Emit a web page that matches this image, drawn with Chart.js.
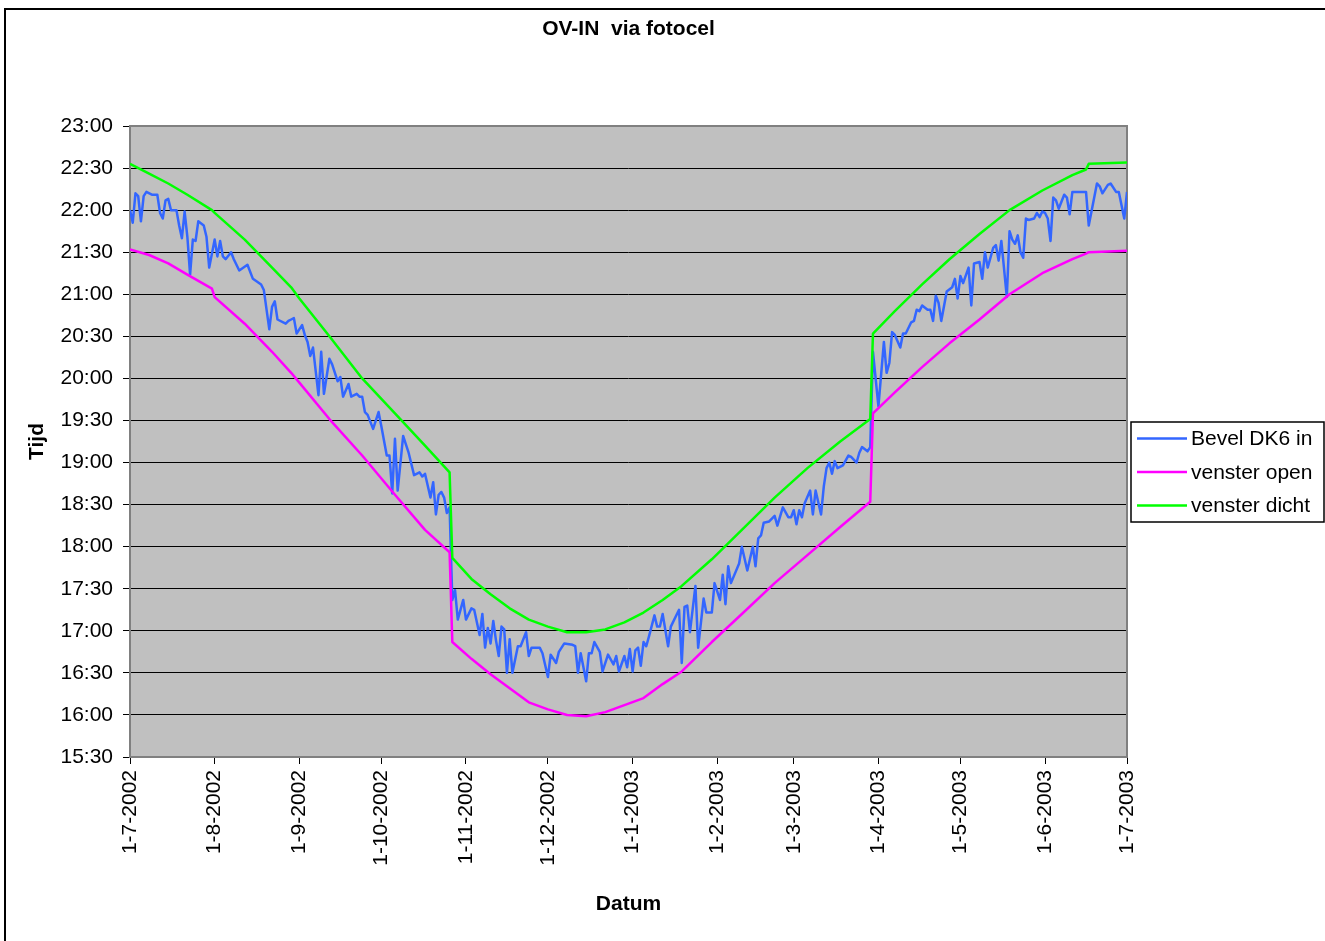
<!DOCTYPE html>
<html>
<head>
<meta charset="utf-8">
<title>OV-IN via fotocel</title>
<script src="https://cdn.jsdelivr.net/npm/chart.js@4.4.1/dist/chart.umd.min.js"></script>
<style>
	html, body { margin: 0; padding: 0; background: #fff; }
</style>
</head>
<body>
<canvas id="fotocel" width="1325" height="941"></canvas>
<script>
// x = days since 1-7-2002, y = minutes since midnight
var xTickDays = [0, 31, 62, 92, 123, 153, 184, 215, 243, 274, 304, 335, 365];
var xTickLabels = ['1-7-2002', '1-8-2002', '1-9-2002', '1-10-2002', '1-11-2002', '1-12-2002',
	'1-1-2003', '1-2-2003', '1-3-2003', '1-4-2003', '1-5-2003', '1-6-2003', '1-7-2003'];
var yTickValues = [930, 960, 990, 1020, 1050, 1080, 1110, 1140, 1170, 1200, 1230, 1260, 1290, 1320, 1350, 1380];
var yTickLabels = ['15:30', '16:00', '16:30', '17:00', '17:30', '18:00', '18:30', '19:00',
	'19:30', '20:00', '20:30', '21:00', '21:30', '22:00', '22:30', '23:00'];

var seriesNames = ['Bevel DK6 in', 'venster open', 'venster dicht'];

// Bevel DK6 in
var blueDays = [
	0, 1, 2, 3, 4, 5, 6, 8, 10, 11, 12, 13, 14, 15, 17, 18, 19, 20, 21, 22, 23, 24, 25, 27, 28, 29,
	31, 32, 33, 34, 35, 37, 38, 40, 43, 45, 48, 49, 51, 52, 53, 54, 57, 58, 59, 60, 61,
	63, 64, 65, 66, 67, 69, 70, 71, 73, 74, 76, 77, 78, 80, 81, 83, 84, 85, 86, 87, 89, 91,
	92, 94, 95, 96, 97, 98, 100, 101, 102, 104, 106, 107, 108, 110, 111, 112, 113, 114, 115, 116, 117, 118, 119, 120, 122,
	123, 125, 126, 128, 129, 130, 131, 132, 133, 134, 135, 136, 137, 138, 139, 140, 142, 143, 145, 146, 147, 150, 151,
	153, 154, 156, 157, 159, 162, 163, 164, 165, 167, 168, 169, 170, 172, 173, 175, 177, 178, 179, 181, 182, 183,
	184, 185, 186, 187, 188, 189, 190, 192, 193, 194, 195, 197, 198, 201, 202, 203, 204, 205, 207, 208, 210, 211, 213, 214,
	216, 217, 218, 219, 220, 223, 224, 226, 228, 229, 230, 231, 232, 234, 236, 237, 239, 241, 242,
	243, 244, 245, 246, 247, 249, 250, 251, 253, 254, 255, 256, 257, 258, 259, 261, 263, 264, 266, 267, 268, 270, 271,
	272, 274, 276, 277, 278, 279, 280, 282, 283, 284, 286, 287, 288, 289, 290, 292, 293, 294, 295, 296, 297, 299, 301, 302, 303,
	304, 305, 307, 308, 309, 311, 312, 313, 314, 316, 317, 318, 319, 321, 322, 323, 324, 325, 326, 327, 328, 329, 331, 332, 333, 334,
	335, 336, 337, 338, 339, 340, 342, 343, 344, 345, 347, 350, 351, 354, 355, 356, 358, 359, 361, 362, 364, 365
];
var blueMins = [
	1320, 1311, 1332, 1330, 1312, 1330, 1333, 1331, 1331, 1318, 1314, 1327, 1328, 1320, 1320, 1309, 1300, 1319, 1301, 1274, 1299, 1298, 1312, 1309, 1301, 1279,
	1299, 1287, 1298, 1287, 1285, 1290, 1285, 1277, 1281, 1271, 1267, 1263, 1235, 1251, 1255, 1242, 1239, 1241, 1242, 1243, 1232,
	1238, 1231, 1226, 1216, 1222, 1188, 1219, 1189, 1214, 1210, 1198, 1201, 1187, 1196, 1187, 1189, 1187, 1187, 1176, 1174, 1164, 1176,
	1166, 1145, 1145, 1118, 1157, 1120, 1159, 1153, 1147, 1131, 1133, 1130, 1132, 1115, 1126, 1103, 1117, 1119, 1115, 1104, 1108, 1042, 1049, 1028, 1042,
	1028, 1036, 1035, 1017, 1032, 1008, 1022, 1011, 1027, 1013, 1002, 1023, 1021, 990, 1014, 990, 1009, 1009, 1019, 1002, 1008, 1008, 1004,
	987, 1003, 997, 1005, 1011, 1010, 1009, 990, 1004, 984, 1004, 1004, 1012, 1005, 991, 1003, 996, 1002, 991, 1002, 994, 1007,
	991, 1006, 1008, 995, 1012, 1009, 1016, 1031, 1023, 1023, 1032, 1009, 1023, 1035, 997, 1037, 1038, 1019, 1052, 1008, 1043, 1033, 1033, 1054,
	1042, 1060, 1039, 1066, 1054, 1068, 1080, 1063, 1080, 1066, 1086, 1088, 1097, 1098, 1102, 1095, 1108, 1101, 1101,
	1106, 1096, 1106, 1101, 1111, 1120, 1103, 1120, 1103, 1123, 1136, 1140, 1132, 1141, 1136, 1138, 1145, 1144, 1140, 1147, 1151, 1148, 1151,
	1219, 1180, 1226, 1204, 1211, 1233, 1231, 1222, 1232, 1232, 1240, 1241, 1249, 1248, 1252, 1249, 1249, 1241, 1259, 1254, 1241, 1262, 1265, 1271, 1257,
	1273, 1268, 1279, 1252, 1282, 1283, 1271, 1290, 1279, 1293, 1295, 1284, 1298, 1258, 1305, 1299, 1296, 1302, 1290, 1286, 1314, 1313, 1314, 1318, 1315, 1319,
	1318, 1314, 1298, 1329, 1327, 1321, 1331, 1329, 1317, 1333, 1333, 1333, 1309, 1339, 1337, 1332, 1338, 1339, 1333, 1333, 1314, 1333
];

// venster open / venster dicht, read at these days
var windowDays = [0, 7, 14, 21, 30, 31, 42, 52, 59, 62, 73, 85, 97, 108, 117, 118, 125, 132, 139, 146, 153, 160, 167,
	174, 181, 188, 195, 202, 213, 224, 236, 248, 260, 271, 272, 280, 290, 300, 311, 322, 334, 345, 350, 351, 365];
var openMins = [1292, 1288, 1282, 1274, 1264, 1258, 1239, 1219, 1204, 1197, 1171, 1145, 1117, 1092, 1076, 1012, 1000, 989, 979, 969, 964, 960, 959,
	962, 967, 972, 982, 991, 1012, 1032, 1054, 1074, 1094, 1112, 1175, 1190, 1208, 1225, 1242, 1260, 1275, 1285, 1289, 1290, 1291];
var closedMins = [1353, 1346, 1339, 1331, 1320, 1318, 1299, 1279, 1265, 1257, 1230, 1200, 1175, 1152, 1133, 1072, 1057, 1046, 1036, 1028, 1023, 1019, 1019,
	1021, 1026, 1033, 1042, 1052, 1071, 1092, 1115, 1136, 1155, 1171, 1232, 1248, 1267, 1285, 1303, 1320, 1334, 1345, 1349, 1353, 1354];

function points(days, mins) {
	return days.map(function(d, i) { return { x: d, y: mins[i] }; });
}

var FONT = '"Liberation Sans", Arial, sans-serif';
Chart.defaults.font.family = FONT;
Chart.defaults.font.size = 21;
Chart.defaults.color = '#000';

var decor = {
	id: 'decor',
	beforeDraw: function(chart) {
		var ctx = chart.ctx, a = chart.chartArea;
		ctx.save();
		ctx.fillStyle = '#fff';
		ctx.fillRect(0, 0, chart.width, chart.height);
		ctx.fillStyle = '#c0c0c0';
		ctx.fillRect(a.left, a.top, a.right - a.left, a.bottom - a.top);
		ctx.restore();
	},
	beforeDatasetsDraw: function(chart) {
		var ctx = chart.ctx, a = chart.chartArea;
		ctx.save();
		ctx.strokeStyle = '#808080';
		ctx.lineWidth = 2;
		ctx.strokeRect(a.left, a.top, a.right - a.left, a.bottom - a.top);
		ctx.restore();
	},
	afterDraw: function(chart) {
		var ctx = chart.ctx;
		ctx.save();
		// outer chart frame (runs off the right and bottom edge)
		ctx.strokeStyle = '#000';
		ctx.lineWidth = 2;
		ctx.beginPath();
		ctx.moveTo(5, chart.height + 5);
		ctx.lineTo(5, 9);
		ctx.lineTo(chart.width + 5, 9);
		ctx.stroke();

		// legend
		var lx = 1131, ly = 422, lw = 193, lh = 100;
		ctx.fillStyle = '#fff';
		ctx.fillRect(lx, ly, lw, lh);
		ctx.lineWidth = 1.5;
		ctx.strokeRect(lx, ly, lw, lh);
		ctx.font = '21px ' + FONT;
		ctx.textBaseline = 'middle';
		ctx.textAlign = 'left';
		chart.data.datasets.forEach(function(ds, i) {
			var y = ly + 16.5 + i * 33.5;
			ctx.strokeStyle = ds.borderColor;
			ctx.lineWidth = 2.5;
			ctx.beginPath();
			ctx.moveTo(lx + 6, y);
			ctx.lineTo(lx + 56, y);
			ctx.stroke();
			ctx.fillStyle = '#000';
			ctx.fillText(ds.label, lx + 60, y + 1);
		});
		ctx.restore();
	}
};

var ctx = document.getElementById('fotocel').getContext('2d');
var fotocelChart = new Chart(ctx, {
	type: 'line',
	data: {
		datasets: [{
			label: seriesNames[0],
			data: points(blueDays, blueMins),
			borderColor: '#3366ff',
			borderWidth: 2.5,
			order: 3
		}, {
			label: seriesNames[1],
			data: points(windowDays, openMins),
			borderColor: '#ff00ff',
			borderWidth: 2.5,
			order: 2
		}, {
			label: seriesNames[2],
			data: points(windowDays, closedMins),
			borderColor: '#00ff00',
			borderWidth: 2.5,
			order: 1
		}]
	},
	options: {
		responsive: false,
		animation: false,
		devicePixelRatio: 1,
		elements: {
			point: { radius: 0 },
			line: { tension: 0, borderJoinStyle: 'round' }
		},
		layout: { padding: { left: 0, top: 0, right: 198, bottom: 0 } },
		plugins: {
			legend: { display: false },
			tooltip: { enabled: false },
			title: {
				display: true,
				fullSize: false,
				text: 'OV-IN  via fotocel',
				font: { size: 21, weight: 'bold' },
				color: '#000',
				padding: { top: 16.5, bottom: 84.3 }
			}
		},
		scales: {
			x: {
				type: 'linear',
				min: 0,
				max: 365,
				border: { display: false },
				grid: { drawOnChartArea: false, drawTicks: true, tickLength: 7, color: '#000' },
				ticks: {
					autoSkip: false,
					minRotation: 90,
					maxRotation: 90,
					padding: 6,
					callback: function(v, i) { return xTickLabels[i]; }
				},
				afterBuildTicks: function(scale) {
					scale.ticks = xTickDays.map(function(d) { return { value: d }; });
				},
				afterFit: function(scale) { scale.height = 184; },
				title: {
					display: true,
					text: 'Datum',
					font: { size: 21, weight: 'bold' },
					padding: { top: 0, bottom: 24.4 }
				}
			},
			y: {
				type: 'linear',
				min: 930,
				max: 1380,
				border: { display: false },
				grid: { color: '#000', lineWidth: 1, tickLength: 7 },
				ticks: {
					padding: 10,
					callback: function(v, i) { return yTickLabels[i]; }
				},
				afterBuildTicks: function(scale) {
					scale.ticks = yTickValues.map(function(v) { return { value: v }; });
				},
				afterFit: function(scale) { scale.width = 130; },
				title: {
					display: true,
					text: 'Tijd',
					font: { size: 21, weight: 'bold' },
					padding: { top: 24.4, bottom: 0 }
				}
			}
		}
	},
	plugins: [decor]
});
</script>
</body>
</html>
